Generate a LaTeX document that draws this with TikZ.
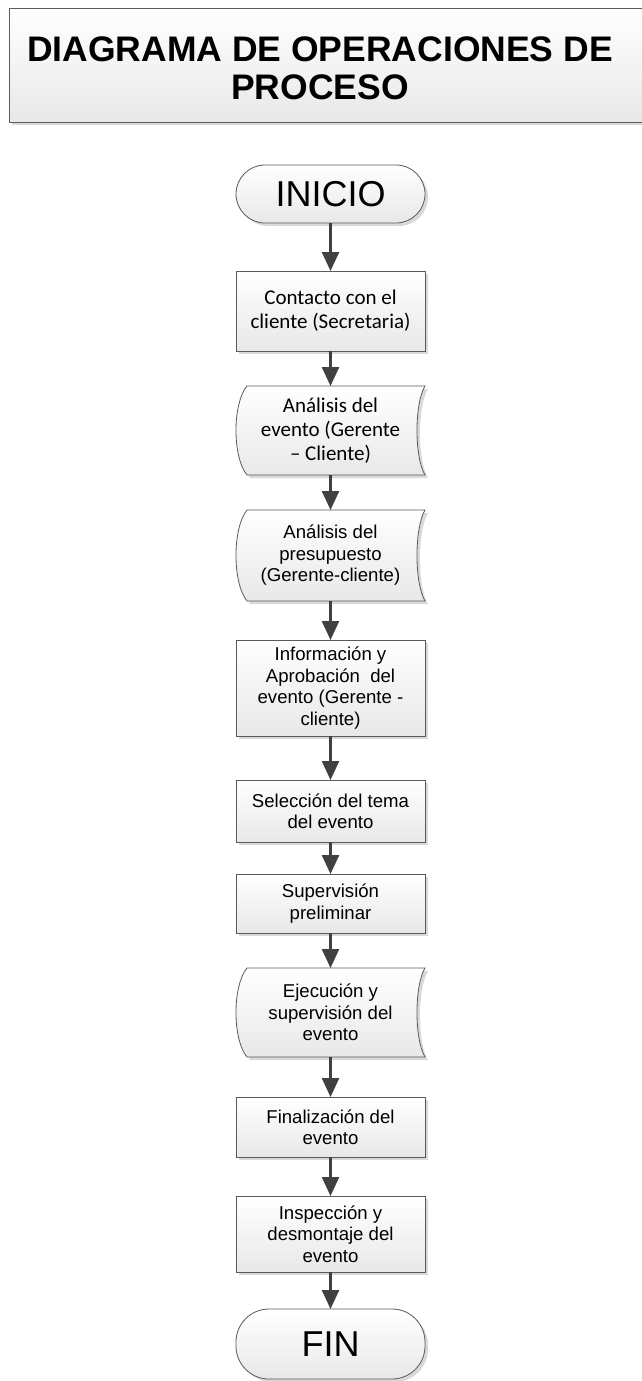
\documentclass[tikz,border=0pt]{standalone}
\usepackage{fontspec}
\setmainfont{Liberation Sans}
\newfontfamily\calibri{Carlito}
\usetikzlibrary{arrows.meta,shadows,calc}
\pgfdeclarelayer{background}
\pgfsetlayers{background,main}

\definecolor{borde}{HTML}{5A5A5A}
\definecolor{flechagris}{HTML}{404040}

\tikzset{
  sombra/.style={drop shadow={shadow xshift=3pt, shadow yshift=-3pt, fill=black!15, opacity=1}},
  relleno/.style={draw=borde, line width=0.8pt, top color=white, bottom color=black!9, sombra},
  caja/.style={relleno, rectangle, minimum width=189pt, inner sep=2pt, outer sep=0pt, align=center, font=\fontsize{18.6}{21.5}\selectfont},
  terminal/.style={relleno, rectangle, rounded corners=29pt, minimum width=189pt, minimum height=58pt, outer sep=0pt, font=\fontsize{36}{40}\selectfont},
  almacen/.style={rectangle, minimum width=189pt, inner sep=2pt, outer sep=0pt, align=center, font=\fontsize{18.6}{21.5}\selectfont},
  flecha/.style={draw=flechagris, line width=2.5pt, -{Triangle[width=17pt,length=19pt]}},
}

% forma de datos almacenados alrededor de un nodo
\newcommand{\formaalmacen}[1]{%
  \path[relleno] ($(#1.north west)+(11,0)$) -- (#1.north east)
    .. controls ($(#1.north east)!0.2!(#1.south east)+(-10.7,0)$) and ($(#1.north east)!0.8!(#1.south east)+(-10.7,0)$) .. (#1.south east)
    -- ($(#1.south west)+(11,0)$)
    .. controls ($(#1.south west)!0.2!(#1.north west)+(-3.7,0)$) and ($(#1.south west)!0.8!(#1.north west)+(-3.7,0)$) .. ($(#1.north west)+(11,0)$) -- cycle;}

\begin{document}
\begin{tikzpicture}[x=1pt,y=-1pt]
  \useasboundingbox (0,0) rectangle (641,1381);
  \begin{pgfonlayer}{background}
    \fill[white] (0,0) rectangle (641,1381);
  \end{pgfonlayer}

  % titulo
  \path[relleno] (9,8) rectangle (660,122);
  \node[font=\bfseries\fontsize{35.5}{38}\selectfont, align=center] (titulo) at (320,68) {DIAGRAMA DE OPERACIONES DE\\PROCESO};

  \node[terminal] (inicio) at (330.5,194) {INICIO};
  \node[caja, minimum height=80pt, font=\calibri\fontsize{21}{24}\selectfont] (contacto) at (330.5,311) {Contacto con el\\cliente (Secretaria)};
  \node[almacen, minimum height=89pt, font=\calibri\fontsize{21}{24}\selectfont] (analisisevento) at (330.5,430.5) {Análisis del\\evento (Gerente\\– Cliente)};
  \node[almacen, minimum height=91pt] (analisispresupuesto) at (330.5,555.5) {Análisis del\\presupuesto\\(Gerente-cliente)};
  \node[caja, minimum height=96pt] (informacion) at (330.5,688) {Información y\\Aprobación\ \ del\\evento (Gerente -\\cliente)};
  \node[caja, minimum height=62pt] (seleccion) at (330.5,811) {Selección del tema\\del evento};
  \node[caja, minimum height=59pt] (supervision) at (330.5,903.5) {Supervisión\\preliminar};
  \node[almacen, minimum height=89pt] (ejecucion) at (330.5,1012.5) {Ejecución y\\supervisión del\\evento};
  \node[caja, minimum height=60pt] (finalizacion) at (330.5,1127) {Finalización del\\evento};
  \node[caja, minimum height=76pt] (inspeccion) at (330.5,1234) {Inspección y\\desmontaje del\\evento};
  \node[terminal, minimum height=70pt, rounded corners=33pt] (fin) at (330.5,1344) {FIN};

  \begin{pgfonlayer}{background}
    \formaalmacen{analisisevento}
    \formaalmacen{analisispresupuesto}
    \formaalmacen{ejecucion}
  \end{pgfonlayer}

  \draw[flecha] (inicio) -- (contacto);
  \draw[flecha] (contacto) -- (analisisevento);
  \draw[flecha] (analisisevento) -- (analisispresupuesto);
  \draw[flecha] (analisispresupuesto) -- (informacion);
  \draw[flecha] (informacion) -- (seleccion);
  \draw[flecha] (seleccion) -- (supervision);
  \draw[flecha] (supervision) -- (ejecucion);
  \draw[flecha] (ejecucion) -- (finalizacion);
  \draw[flecha] (finalizacion) -- (inspeccion);
  \draw[flecha] (inspeccion) -- (fin);
\end{tikzpicture}
\end{document}
